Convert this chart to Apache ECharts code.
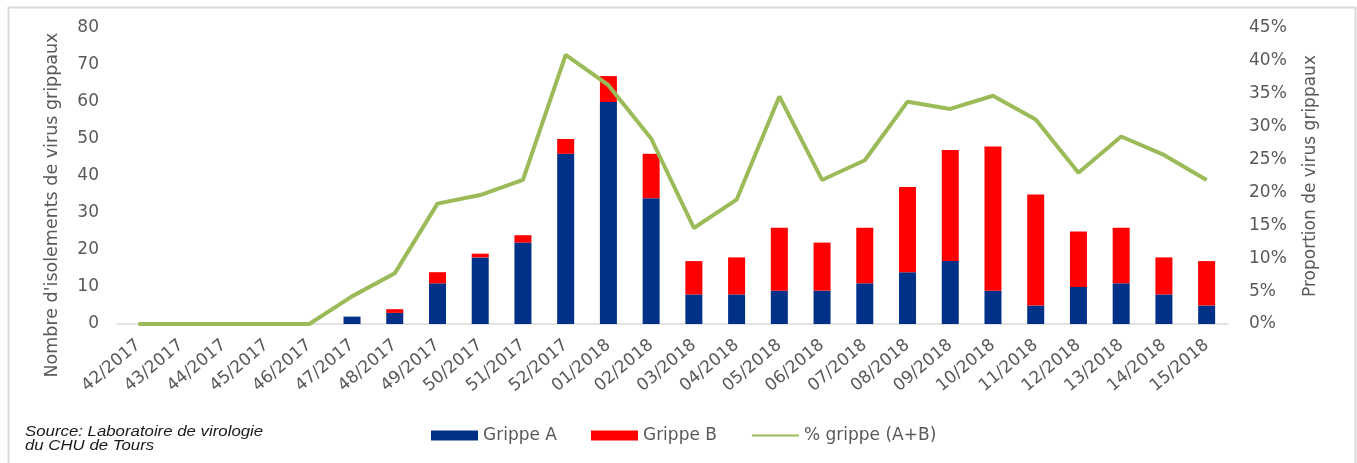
<!DOCTYPE html>
<html><head><meta charset="utf-8">
<script src="https://cdn.jsdelivr.net/npm/echarts@6/dist/echarts.min.js"></script>
<style>html,body{margin:0;padding:0;background:#fff}#c{width:1357px;height:463px}</style>
</head><body><div id="c"></div>
<script>
const categories = ['42/2017','43/2017','44/2017','45/2017','46/2017','47/2017','48/2017','49/2017','50/2017','51/2017','52/2017',
  '01/2018','02/2018','03/2018','04/2018','05/2018','06/2018','07/2018','08/2018','09/2018','10/2018','11/2018','12/2018','13/2018','14/2018','15/2018'];
const grippeA = [0,0,0,0,0,2,3,11,18,22,46,60,34,8,8,9,9,11,14,17,9,5,10,11,8,5];
const grippeB = [0,0,0,0,0,0,1,3,1,2,4,7,12,9,10,17,13,15,23,30,39,30,15,15,10,12];
const pctGrippe = [0,0,0,0,0,4.2,7.7,18.3,19.6,21.9,40.9,36.3,28.2,14.6,18.9,34.6,21.9,24.9,33.8,32.7,34.7,31.1,23.0,28.5,25.7,21.9];

const FONT = 'DejaVu Sans';
const GRAY = '#595959';
const chart = echarts.init(document.getElementById('c'), null, {renderer: 'canvas'});
chart.setOption({
  animation: false,
  backgroundColor: '#fff',
  graphic: [
    {type: 'rect', left: 6, top: 5, shape: {width: 1347, height: 480}, style: {fill: 'none', stroke: '#d9d9d9', lineWidth: 2}, silent: true, z: -1},
    {type: 'text', x: 25, y: 425, scaleX: 1.2, style: {x: 0, y: 0, text: 'Source: Laboratoire de virologie\ndu CHU de Tours', font: 'italic 14px "Liberation Sans"', fill: '#1a1a1a', lineHeight: 14, verticalAlign: 'top'}}
  ],
  grid: {left: 117, right: 129, top: 28, bottom: 139},
  legend: {
    left: 426, top: 422, itemWidth: 47, itemHeight: 10, itemGap: 34,
    textStyle: {fontFamily: FONT, fontSize: 17, color: GRAY},
    data: [
      {name: 'Grippe A', icon: 'rect'},
      {name: 'Grippe B', icon: 'rect'},
      {name: '% grippe (A+B)', itemStyle: {opacity: 0, color: 'rgba(0,0,0,0)', borderWidth: 0}}
    ]
  },
  xAxis: {
    type: 'category', data: categories, boundaryGap: true,
    axisLine: {lineStyle: {color: '#d9d9d9', width: 1.5}},
    axisTick: {show: false},
    axisLabel: {interval: 0, rotate: 40, margin: 19, fontFamily: FONT, fontSize: 17, color: GRAY}
  },
  yAxis: [
    {type: 'value', min: 0, max: 80, interval: 10,
     name: "Nombre d'isolements de virus grippaux", nameLocation: 'middle', nameGap: 56,
     nameTextStyle: {fontFamily: FONT, fontSize: 17.5, color: GRAY, padding: [0, 58, 0, 0]},
     axisLine: {show: false}, axisTick: {show: false}, splitLine: {show: false},
     axisLabel: {margin: 18, fontFamily: FONT, fontSize: 17, color: GRAY}},
    {type: 'value', min: 0, max: 45, interval: 5,
     name: 'Proportion de virus grippaux', nameLocation: 'middle', nameGap: 74, nameRotate: 90,
     nameTextStyle: {fontFamily: FONT, fontSize: 17, color: GRAY},
     axisLine: {show: false}, axisTick: {show: false}, splitLine: {show: false},
     axisLabel: {margin: 21, fontFamily: FONT, fontSize: 17, color: GRAY, formatter: '{value}%'}}
  ],
  series: [
    {name: 'Grippe A', type: 'bar', stack: 'g', data: grippeA, barWidth: 17, itemStyle: {color: '#003087'}},
    {name: 'Grippe B', type: 'bar', stack: 'g', data: grippeB, barWidth: 17, itemStyle: {color: '#ff0000'}},
    {name: '% grippe (A+B)', type: 'line', yAxisIndex: 1, data: pctGrippe, symbol: 'none', z: 5,
     lineStyle: {color: '#9bbb59', width: 4}, itemStyle: {color: '#9bbb59'}}
  ]
});
</script></body></html>
